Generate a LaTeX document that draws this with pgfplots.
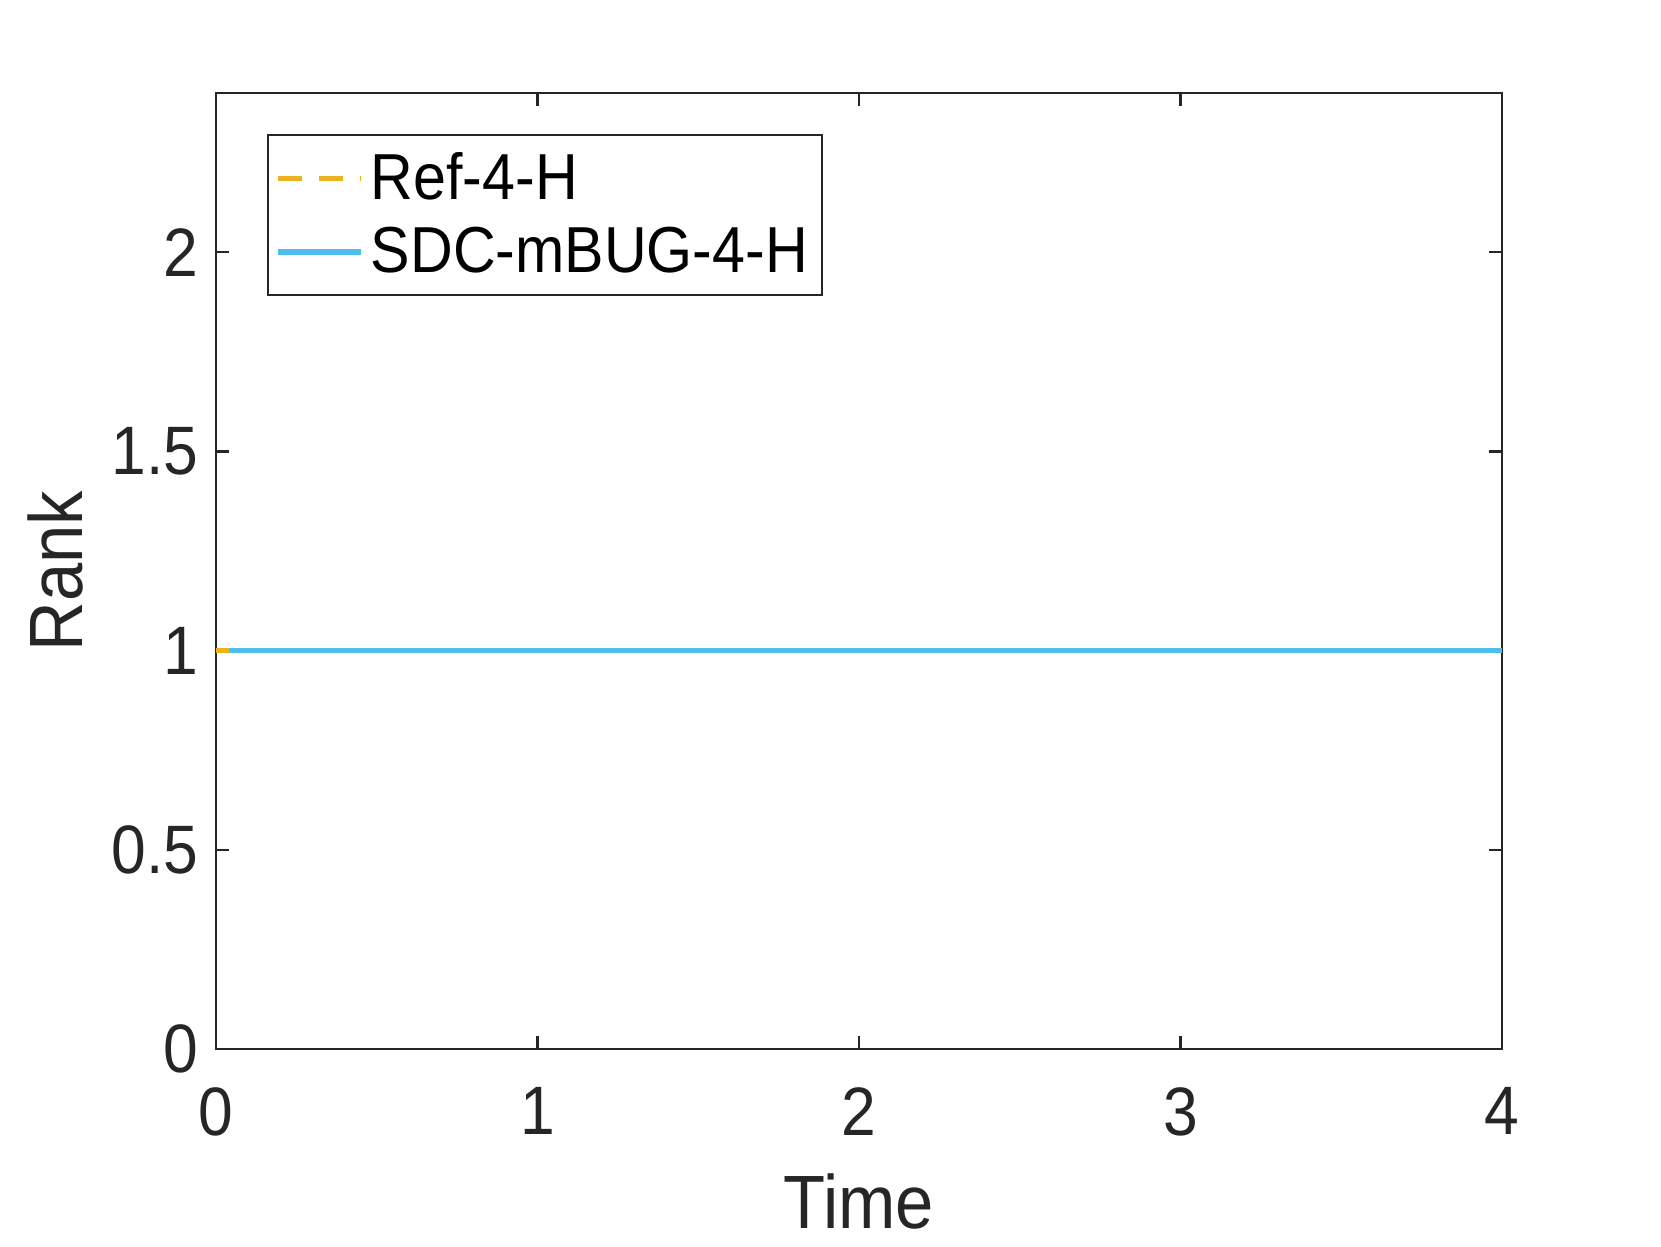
\documentclass[border=0pt]{standalone}
\usepackage{fontspec}
\setmainfont{Liberation Sans}[FakeStretch=0.91]
\usepackage{pgfplots}
\pgfplotsset{compat=1.18}
\definecolor{mlorange}{rgb}{0.929,0.694,0.125}
\definecolor{mlblue}{rgb}{0.302,0.745,0.933}
\definecolor{axgray}{rgb}{0.15,0.15,0.15}
\begin{document}
\begin{tikzpicture}
\useasboundingbox (-2.16cm,-1.97cm) rectangle (14.45cm,10.49cm);
\begin{axis}[
  scale only axis,
  width=12.86cm, height=9.56cm,
  xmin=0, xmax=4, ymin=0, ymax=2.4,
  xtick={0,1,2,3,4},
  ytick={0,0.5,1,1.5,2},
  yticklabels={0,0.5,1,1.5,2},
  xticklabels={0,1,2,3,4},
  tick align=inside,
  major tick length=0.13cm,
  axis line style={axgray, line width=0.6pt},
  every tick/.style={axgray, line width=0.6pt},
  tick label style={font=\fontsize{19.5}{22}\selectfont, text=axgray},
  xticklabel style={yshift=-0.26cm},
  yticklabel style={xshift=-0.05cm},
  xlabel={Time}, ylabel={Rank},
  label style={font=\fontsize{21.5}{24}\selectfont, text=axgray},
  xlabel style={yshift=-0.14cm},
  ylabel style={yshift=0.05cm},
  legend style={at={(0.04,0.957)}, anchor=north west, draw=axgray,
    font=\fontsize{18.5}{22}\selectfont, row sep=0.08cm,
    inner xsep=2pt, inner ysep=3pt},
  legend cell align=left,
  legend image code/.code={\draw[#1] (0cm,0cm) -- (0.83cm,0cm);},
]
\addplot[mlorange, line width=1.6pt, dash pattern=on 6.7pt off 5pt] coordinates {(0,1) (4,1)};
\addlegendentry{Ref-4-H}
\addplot[mlblue, line width=1.6pt] coordinates {(0.04,1) (4,1)};
\addlegendentry{SDC-mBUG-4-H}
\end{axis}
\end{tikzpicture}
\end{document}
